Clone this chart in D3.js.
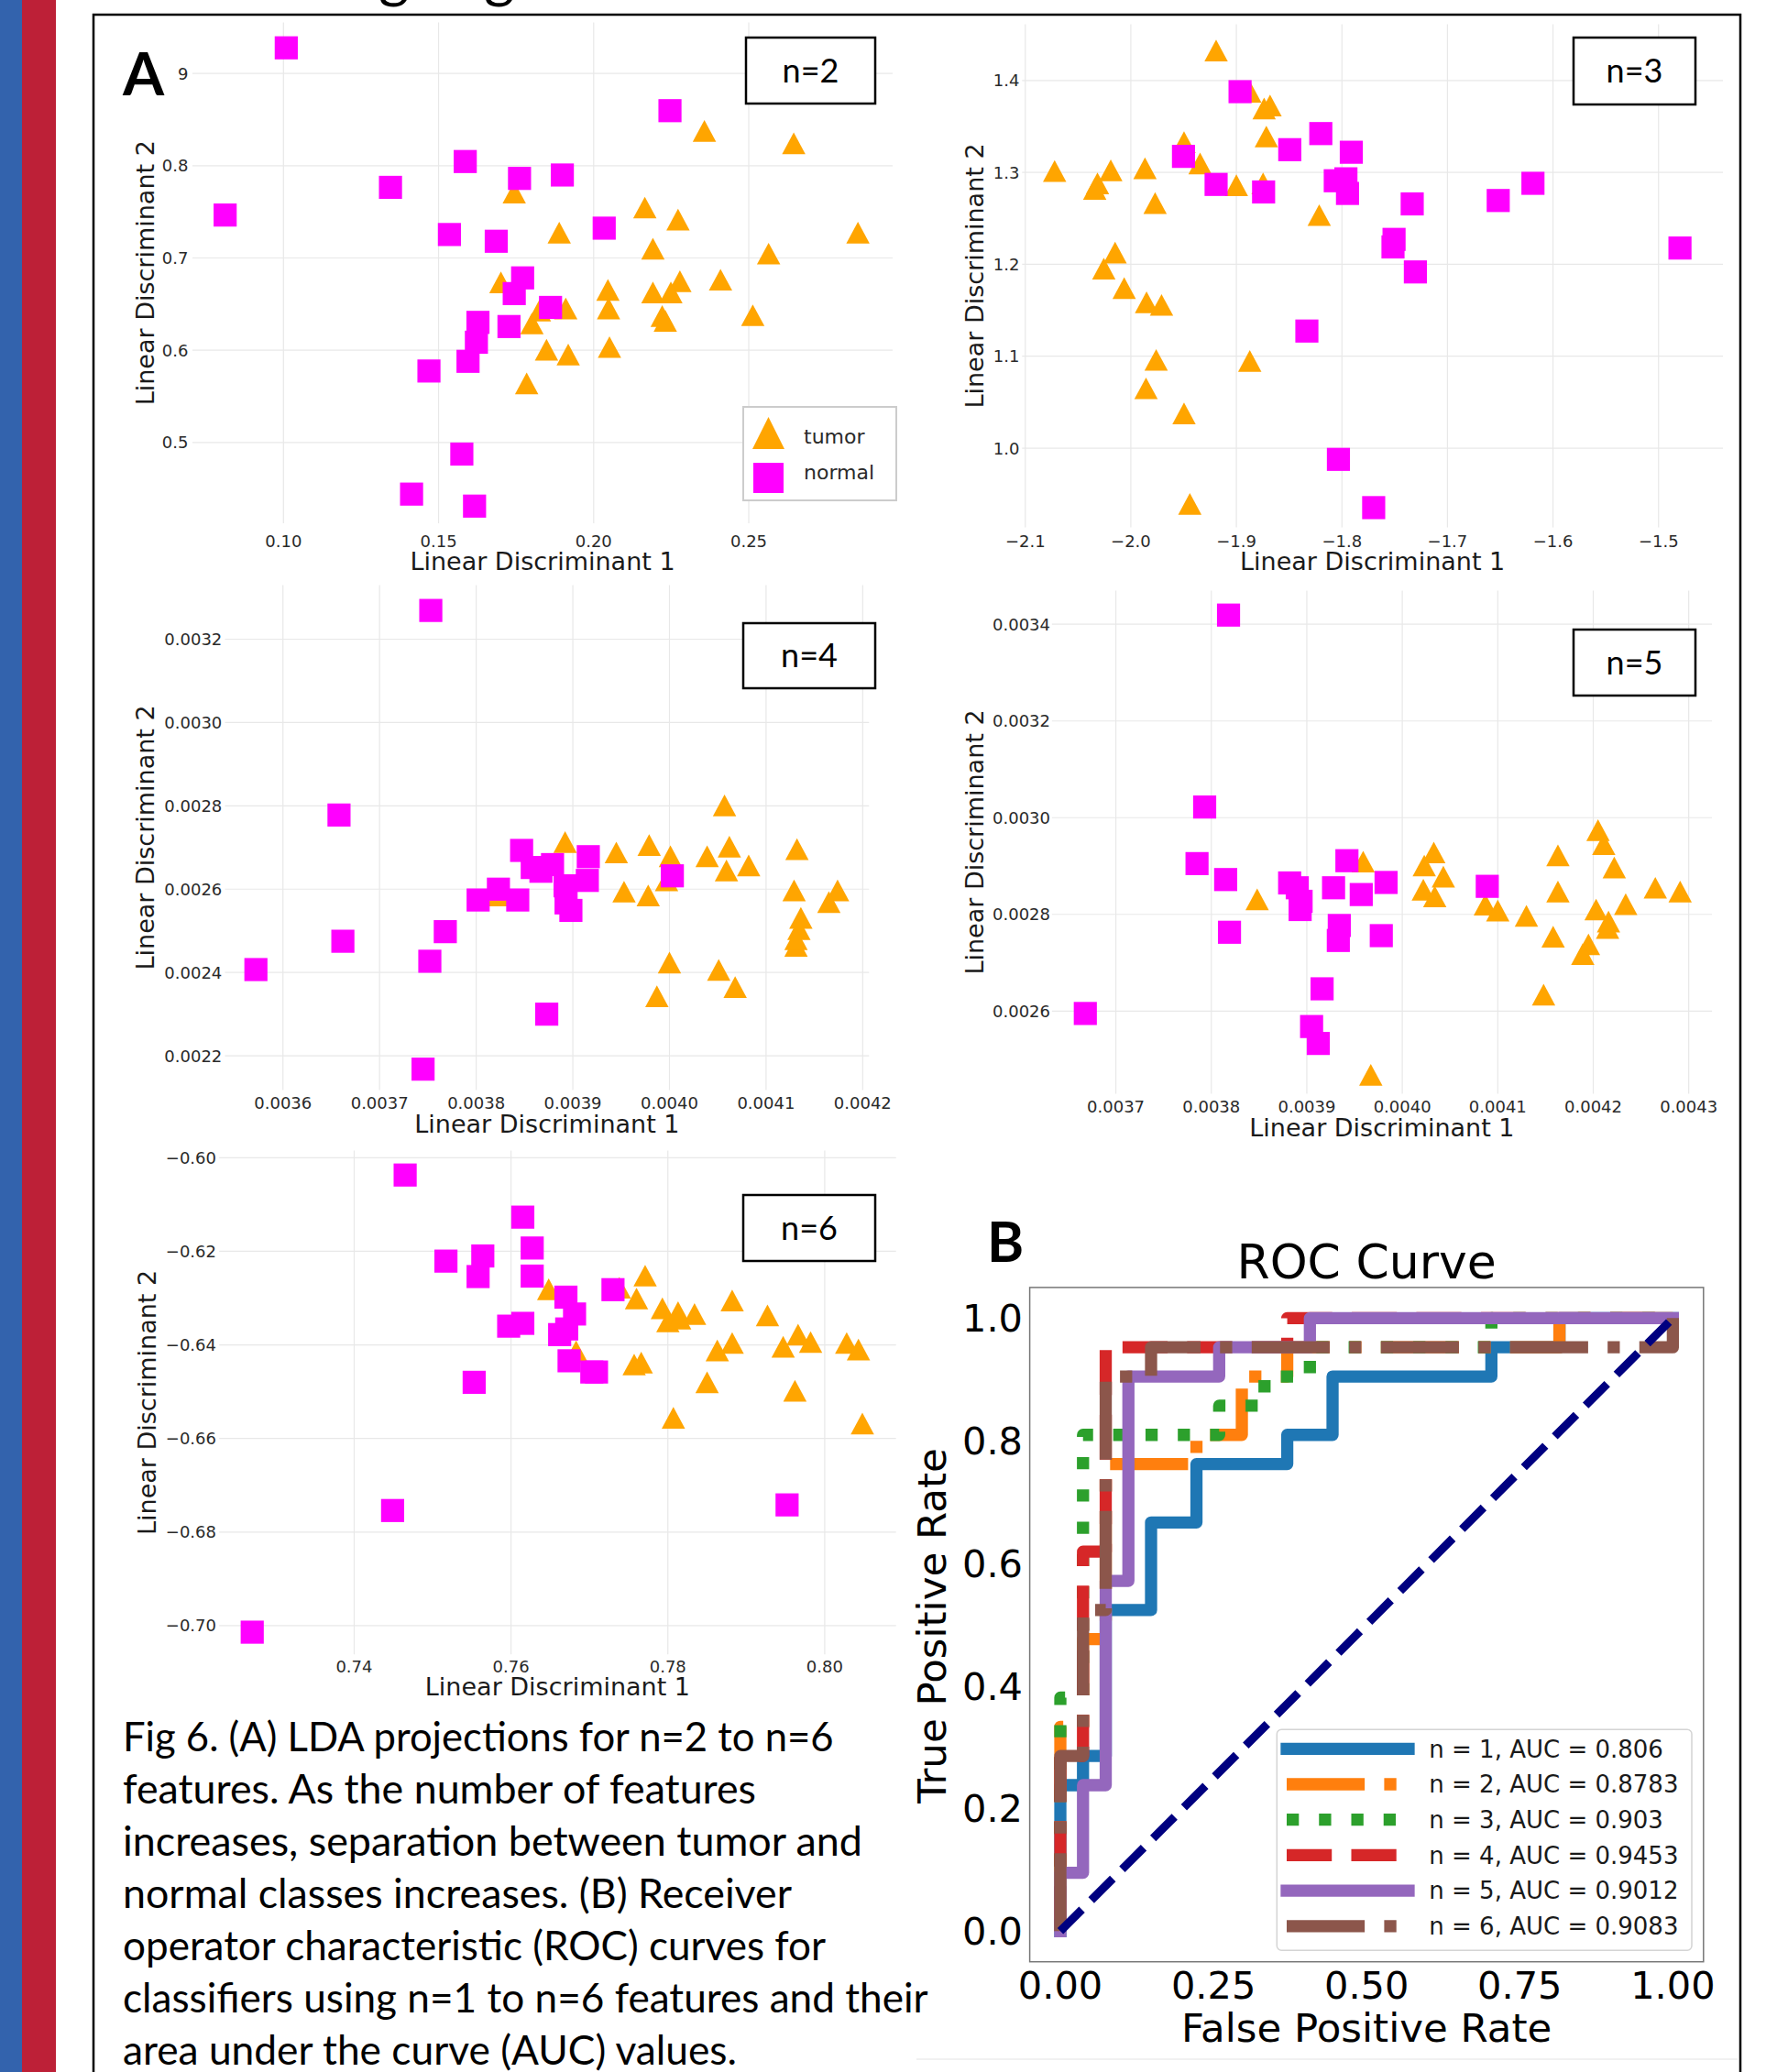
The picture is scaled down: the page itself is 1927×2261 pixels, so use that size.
<!DOCTYPE html>
<html><head><meta charset="utf-8">
<script src="https://cdn.jsdelivr.net/npm/d3@7"></script>
<style>body{margin:0;background:#fff;} svg{display:block;}</style>
</head><body>
<svg id="fig" width="1927" height="2261"></svg>
<script>
// ---------------- DATA ----------------
const n2Tumor = [[0.2357,0.8377],[0.2645,0.8243],[0.1744,0.7708],[0.2165,0.7546],[0.2272,0.7416],[0.1889,0.7274],[0.2852,0.7274],[0.2191,0.7100],[0.2564,0.7047],[0.1701,0.6735],[0.2278,0.6747],[0.2409,0.6764],[0.2046,0.6654],[0.2191,0.6626],[0.2249,0.6626],[0.1910,0.6452],[0.2048,0.6452],[0.1825,0.6431],[0.2513,0.6379],[0.2221,0.6370],[0.2231,0.6318],[0.1801,0.6290],[0.1848,0.6006],[0.1918,0.5953],[0.2051,0.6034],[0.1784,0.5641]];
const n2Normal = [[0.1009,0.9277],[0.0812,0.7465],[0.1345,0.7765],[0.1586,0.8045],[0.1761,0.7862],[0.1899,0.7899],[0.2246,0.8596],[0.1535,0.7254],[0.1686,0.7181],[0.2034,0.7323],[0.1771,0.6784],[0.1744,0.6614],[0.1861,0.6464],[0.1627,0.6302],[0.1727,0.6257],[0.1622,0.6087],[0.1595,0.5880],[0.1469,0.5775],[0.1575,0.4875],[0.1413,0.4441],[0.1616,0.4311]];

const n3Tumor = [[-1.9192,1.4326],[-1.8873,1.3878],[-1.8737,1.3695],[-1.8681,1.3727],[-1.8716,1.3390],[-1.9496,1.3329],[-1.9344,1.3097],[-2.0722,1.3015],[-2.0190,1.3023],[-1.9866,1.3044],[-2.0316,1.2881],[-2.0342,1.2820],[-1.9000,1.2861],[-1.8747,1.2881],[-1.9770,1.2665],[-1.8215,1.2535],[-2.0149,1.2128],[-2.0256,1.1953],[-2.0063,1.1742],[-1.9851,1.1587],[-1.9709,1.1558],[-1.9760,1.0960],[-1.8873,1.0948],[-1.9856,1.0651],[-1.9496,1.0378],[-1.9441,0.9394]];
const n3Normal = [[-1.8965,1.3878],[-1.8200,1.3422],[-1.8494,1.3247],[-1.7911,1.3219],[-1.9501,1.3174],[-1.9192,1.2869],[-1.8742,1.2787],[-1.8063,1.2909],[-1.7962,1.2930],[-1.7947,1.2771],[-1.7334,1.2657],[-1.6519,1.2694],[-1.6190,1.2881],[-1.7506,1.2271],[-1.7516,1.2189],[-1.7304,1.1917],[-1.4797,1.2177],[-1.8332,1.1274],[-1.8033,0.9878],[-1.7699,0.9353]];

const n4Tumor = [[0.004057,0.002801],[0.003892,0.002713],[0.003945,0.002688],[0.003979,0.002706],[0.004001,0.002679],[0.004039,0.002679],[0.004062,0.002702],[0.004082,0.002657],[0.004059,0.002645],[0.004132,0.002696],[0.003953,0.002594],[0.003978,0.002585],[0.003997,0.002621],[0.004129,0.002597],[0.004174,0.002597],[0.004165,0.002569],[0.004136,0.002531],[0.004134,0.002504],[0.004131,0.002464],[0.004000,0.002424],[0.004051,0.002406],[0.004068,0.002365],[0.003987,0.002343],[0.003823,0.002585],[0.004131,0.002480]];
const n4Normal = [[0.003753,0.003269],[0.003658,0.002778],[0.003662,0.002475],[0.003572,0.002407],[0.003768,0.002498],[0.003752,0.002427],[0.003873,0.002300],[0.003745,0.002168],[0.003847,0.002693],[0.003858,0.002652],[0.003867,0.002643],[0.003879,0.002659],[0.003916,0.002678],[0.003823,0.002600],[0.003802,0.002574],[0.003843,0.002574],[0.003892,0.002608],[0.003893,0.002567],[0.003898,0.002549],[0.003915,0.002621],[0.004003,0.002632]];

const n5Tumor = [[0.003848,0.002831],[0.003959,0.002909],[0.004023,0.002901],[0.004033,0.002928],[0.004043,0.002878],[0.004022,0.002851],[0.004034,0.002837],[0.004087,0.002820],[0.004100,0.002808],[0.004130,0.002797],[0.004163,0.002922],[0.004163,0.002847],[0.004158,0.002754],[0.004205,0.002974],[0.004211,0.002945],[0.004222,0.002897],[0.004203,0.002810],[0.004216,0.002785],[0.004215,0.002772],[0.004234,0.002821],[0.004265,0.002855],[0.004291,0.002847],[0.004195,0.002738],[0.004189,0.002718],[0.004148,0.002634],[0.003967,0.002468]];
const n5Normal = [[0.003818,0.003419],[0.003793,0.003022],[0.003785,0.002905],[0.003815,0.002872],[0.003819,0.002763],[0.003668,0.002595],[0.003882,0.002865],[0.003890,0.002855],[0.003894,0.002827],[0.003893,0.002810],[0.003942,0.002911],[0.003928,0.002855],[0.003957,0.002841],[0.003983,0.002866],[0.003934,0.002777],[0.003933,0.002746],[0.003978,0.002756],[0.003916,0.002646],[0.003905,0.002568],[0.003912,0.002533],[0.004089,0.002858]];

const n6Tumor = [[0.7771,-0.6252],[0.7648,-0.6281],[0.7738,-0.6278],[0.7760,-0.6301],[0.7793,-0.6322],[0.7813,-0.6330],[0.7834,-0.6334],[0.7800,-0.6350],[0.7815,-0.6344],[0.7882,-0.6305],[0.7927,-0.6337],[0.7966,-0.6378],[0.7982,-0.6394],[0.7947,-0.6404],[0.7882,-0.6396],[0.7863,-0.6412],[0.8028,-0.6396],[0.8043,-0.6410],[0.7683,-0.6414],[0.7757,-0.6442],[0.7766,-0.6438],[0.7850,-0.6480],[0.7962,-0.6498],[0.7807,-0.6556],[0.8048,-0.6568]];
const n6Normal = [[0.7465,-0.6037],[0.7615,-0.6127],[0.7627,-0.6193],[0.7517,-0.6221],[0.7564,-0.6210],[0.7558,-0.6254],[0.7627,-0.6253],[0.7730,-0.6282],[0.7670,-0.6298],[0.7681,-0.6334],[0.7597,-0.6360],[0.7615,-0.6354],[0.7671,-0.6366],[0.7662,-0.6378],[0.7674,-0.6434],[0.7703,-0.6458],[0.7709,-0.6458],[0.7553,-0.6480],[0.7449,-0.6754],[0.7952,-0.6742],[0.7270,-0.7014]];

const n2XTicks = [0.10,0.15,0.20,0.25], n2XLabels = ["0.10","0.15","0.20","0.25"];
const n2YTicks = [0.5,0.6,0.7,0.8,0.9], n2YLabels = ["0.5","0.6","0.7","0.8","0.9"];
const n3XTicks = [-2.1,-2.0,-1.9,-1.8,-1.7,-1.6,-1.5], n3XLabels = ["\u22122.1","\u22122.0","\u22121.9","\u22121.8","\u22121.7","\u22121.6","\u22121.5"];
const n3YTicks = [1.0,1.1,1.2,1.3,1.4], n3YLabels = ["1.0","1.1","1.2","1.3","1.4"];
const n4XTicks = [0.0036,0.0037,0.0038,0.0039,0.0040,0.0041,0.0042], n4XLabels = ["0.0036","0.0037","0.0038","0.0039","0.0040","0.0041","0.0042"];
const n4YTicks = [0.0022,0.0024,0.0026,0.0028,0.0030,0.0032], n4YLabels = ["0.0022","0.0024","0.0026","0.0028","0.0030","0.0032"];
const n5XTicks = [0.0037,0.0038,0.0039,0.0040,0.0041,0.0042,0.0043], n5XLabels = ["0.0037","0.0038","0.0039","0.0040","0.0041","0.0042","0.0043"];
const n5YTicks = [0.0026,0.0028,0.0030,0.0032,0.0034], n5YLabels = ["0.0026","0.0028","0.0030","0.0032","0.0034"];
const n6XTicks = [0.74,0.76,0.78,0.80], n6XLabels = ["0.74","0.76","0.78","0.80"];
const n6YTicks = [-0.70,-0.68,-0.66,-0.64,-0.62,-0.60], n6YLabels = ["\u22120.70","\u22120.68","\u22120.66","\u22120.64","\u22120.62","\u22120.60"];

const classNames = ["tumor","normal"];

// ROC curves (corner points of step functions)
const fpr1 = [0,0,0.0370,0.0370,0.0741,0.0741,0.1481,0.1481,0.2222,0.2222,0.3704,0.3704,0.4444,0.4444,0.7037,0.7037,0.8148,0.8148,1];
const tpr1 = [0,0.2381,0.2381,0.2857,0.2857,0.5238,0.5238,0.6667,0.6667,0.7619,0.7619,0.8095,0.8095,0.9048,0.9048,0.9524,0.9524,1,1];
const fpr2 = [0,0,0.0370,0.0370,0.0741,0.0741,0.2222,0.2222,0.2963,0.2963,0.3704,0.3704,0.8148,0.8148,1];
const tpr2 = [0,0.3333,0.3333,0.4762,0.4762,0.7619,0.7619,0.8095,0.8095,0.9048,0.9048,0.9524,0.9524,1,1];
const fpr3 = [0,0,0.0370,0.0370,0.2593,0.2593,0.3333,0.3333,0.4074,0.4074,0.7037,0.7037,1];
const tpr3 = [0,0.3810,0.3810,0.8095,0.8095,0.8571,0.8571,0.9048,0.9048,0.9524,0.9524,1,1];
const fpr4 = [0,0,0.0370,0.0370,0.0741,0.0741,0.3704,0.3704,1];
const tpr4 = [0,0.2857,0.2857,0.6190,0.6190,0.9524,0.9524,1,1];
const fpr5 = [0,0,0.0370,0.0370,0.0741,0.0741,0.1111,0.1111,0.2593,0.2593,0.4074,0.4074,1];
const tpr5 = [0,0.0952,0.0952,0.2381,0.2381,0.5714,0.5714,0.9048,0.9048,0.9524,0.9524,1,1];
const fpr6 = [0,0,0.0370,0.0370,0.0741,0.0741,0.1481,0.1481,1,1];
const tpr6 = [0,0.2857,0.2857,0.5238,0.5238,0.9048,0.9048,0.9524,0.9524,1];
const diagFpr = [0,1], diagTpr = [0,1];
const rocLabels = ["n = 1, AUC = 0.806","n = 2, AUC = 0.8783","n = 3, AUC = 0.903","n = 4, AUC = 0.9453","n = 5, AUC = 0.9012","n = 6, AUC = 0.9083"];
const rocXTicks = [0,0.25,0.5,0.75,1], rocXLabels = ["0.00","0.25","0.50","0.75","1.00"];
const rocYTicks = [0,0.2,0.4,0.6,0.8,1.0], rocYLabels = ["0.0","0.2","0.4","0.6","0.8","1.0"];

const captionLines = [
 "Fig 6. (A) LDA projections for n=2 to n=6",
 "features. As the number of features",
 "increases, separation between tumor and",
 "normal classes increases. (B) Receiver",
 "operator characteristic (ROC) curves for",
 "classifiers using n=1 to n=6 features and their",
 "area under the curve (AUC) values."
];

// ---------------- DRAW ----------------
const svg = d3.select("#fig");
const DJ = "'DejaVu Sans', sans-serif";
const LT = "Lato, 'Noto Sans', sans-serif";

// side stripes and frame
svg.append("rect").attr("x",0).attr("y",0).attr("width",24).attr("height",2261).attr("fill","#3363ad");
svg.append("rect").attr("x",24).attr("y",0).attr("width",37).attr("height",2261).attr("fill","#bd2037");
svg.append("path").attr("d","M102,2261V16H1899V2261").attr("fill","none").attr("stroke","#000").attr("stroke-width",2.5);

// clipped title descenders at top (the heading above is cropped off in the source)
[430,545].forEach(x=>svg.append("text").attr("x",x).attr("y",-4).attr("text-anchor","middle")
  .attr("font-family",LT).attr("font-size",64).attr("fill","#000").text("g"));

const panels = [
 {tumor:n2Tumor, normal:n2Normal, xt:n2XTicks, xl:n2XLabels, yt:n2YTicks, yl:n2YLabels,
  xd:[0.07066,0.29638], xr:[210,974], yd:[0.4125,0.9552], yr:[571,24.5],
  xlb:597, xtb:622, ylr:205.4, ytb:168, box:[814,41,955,113], lab:"n=2"},
 {tumor:n3Tumor, normal:n3Normal, xt:n3XTicks, xl:n3XLabels, yt:n3YTicks, yl:n3YLabels,
  xd:[-2.103,-1.439], xr:[1115.3,1880], yd:[0.9138,1.4611], yr:[575.5,26.5],
  xlb:597, xtb:622, ylr:1112.4, ytb:1073, box:[1717,41,1850,114], lab:"n=3"},
 {tumor:n4Tumor, normal:n4Normal, xt:n4XTicks, xl:n4XLabels, yt:n4YTicks, yl:n4YLabels,
  xd:[0.003540,0.0042066], xr:[245.5,948.3], yd:[0.002118,0.003330], yr:[1189.4,638.4],
  xlb:1210, xtb:1236.3, ylr:242.3, ytb:168, box:[811,680,955,751], lab:"n=4"},
 {tumor:n5Tumor, normal:n5Normal, xt:n5XTicks, xl:n5XLabels, yt:n5YTicks, yl:n5YLabels,
  xd:[0.003633,0.0043244], xr:[1147.8,1868.1], yd:[0.002429,0.0034696], yr:[1193.5,644.5],
  xlb:1214, xtb:1240.4, ylr:1146, ytb:1073, box:[1717,687,1850,759], lab:"n=5"},
 {tumor:n6Tumor, normal:n6Normal, xt:n6XTicks, xl:n6XLabels, yt:n6YTicks, yl:n6YLabels,
  xd:[0.72279,0.80909], xr:[239.2,977.7], yd:[-0.70615,-0.59847], yr:[1805.3,1255.5],
  xlb:1824.5, xtb:1850.2, ylr:236, ytb:170, box:[811,1304,955,1376], lab:"n=6"}
];

const triPath = "M-12.75,11.85L12.75,11.85L0,-11.85Z";

panels.forEach(p=>{
  const x = d3.scaleLinear(p.xd, p.xr), y = d3.scaleLinear(p.yd, p.yr);
  const g = svg.append("g");
  g.selectAll(".vg").data(p.xt).join("line").attr("x1",d=>x(d)).attr("x2",d=>x(d))
    .attr("y1",p.yr[1]).attr("y2",p.yr[0]).attr("stroke","#e8e8e8").attr("stroke-width",1.2);
  g.selectAll(".hg").data(p.yt).join("line").attr("y1",d=>y(d)).attr("y2",d=>y(d))
    .attr("x1",p.xr[0]).attr("x2",p.xr[1]).attr("stroke","#e8e8e8").attr("stroke-width",1.2);
  g.selectAll(".xl").data(p.xt).join("text").attr("x",d=>x(d)).attr("y",p.xlb)
    .attr("text-anchor","middle").attr("font-family",DJ).attr("font-size",18).attr("fill","#2a2a2a")
    .text((d,i)=>p.xl[i]);
  g.selectAll(".yl").data(p.yt).join("text").attr("x",p.ylr).attr("y",d=>y(d)).attr("dy","0.36em")
    .attr("text-anchor","end").attr("font-family",DJ).attr("font-size",18).attr("fill","#2a2a2a")
    .text((d,i)=>p.yl[i]);
  g.append("text").attr("x",(p.xr[0]+p.xr[1])/2).attr("y",p.xtb).attr("text-anchor","middle")
    .attr("font-family",DJ).attr("font-size",27).attr("fill","#1a1a1a").text("Linear Discriminant 1");
  const cy = (p.yr[0]+p.yr[1])/2;
  g.append("text").attr("transform",`translate(${p.ytb},${cy}) rotate(-90)`).attr("text-anchor","middle")
    .attr("font-family",DJ).attr("font-size",27).attr("fill","#1a1a1a").text("Linear Discriminant 2");
  g.selectAll(".tri").data(p.tumor).join("path").attr("d",triPath)
    .attr("transform",d=>`translate(${x(d[0])},${y(d[1])})`).attr("fill","#FFA500");
  g.selectAll(".sq").data(p.normal).join("rect").attr("x",d=>x(d[0])-12.6).attr("y",d=>y(d[1])-12.6)
    .attr("width",25.2).attr("height",25.2).attr("fill","#FF00FF");
  const b = p.box;
  g.append("rect").attr("x",b[0]).attr("y",b[1]).attr("width",b[2]-b[0]).attr("height",b[3]-b[1])
    .attr("fill","#fff").attr("stroke","#000").attr("stroke-width",2.5);
  g.append("text").attr("x",(b[0]+b[2])/2).attr("y",(b[1]+b[3])/2).attr("dy","0.35em").attr("text-anchor","middle")
    .attr("font-family",LT).attr("font-size",36).attr("fill","#000").text(p.lab);
});

// legend of n=2 panel
const lg = svg.append("g");
lg.append("rect").attr("x",811).attr("y",444).attr("width",167).attr("height",102)
  .attr("fill","#fff").attr("stroke","#cccccc").attr("stroke-width",2);
lg.append("path").attr("d","M-17.5,17.5L17.5,17.5L0,-17.5Z").attr("transform","translate(838.5,472.5)").attr("fill","#FFA500");
lg.append("rect").attr("x",822).attr("y",505).attr("width",33).attr("height",33).attr("fill","#FF00FF");
lg.selectAll("text").data(classNames).join("text").attr("x",877).attr("y",(d,i)=>[484,522.5][i])
  .attr("font-family",DJ).attr("font-size",22).attr("fill","#2a2a2a").text(d=>d);

// panel letter A (its white box hides part of a tick label, as in the original)
svg.append("rect").attr("x",118).attr("y",40).attr("width",75).attr("height",75).attr("fill","#fff");
svg.append("text").attr("x",134).attr("y",104).attr("font-family",LT).attr("font-weight",700)
  .attr("font-size",65).attr("fill","#000").text("A");

// ---------------- ROC ----------------
const xR = d3.scaleLinear([-0.05,1.05],[1123.6,1858.8]);
const yR = d3.scaleLinear([-0.05,1.05],[2140.7,1404.9]);
const rg = svg.append("g");
rg.append("defs").append("clipPath").attr("id","rocclip").append("rect")
  .attr("x",1123.6).attr("y",1404.9).attr("width",735.2).attr("height",735.8);
const lineGen = d3.line().x(d=>xR(d[0])).y(d=>yR(d[1]));
const rocData = [[fpr1,tpr1],[fpr2,tpr2],[fpr3,tpr3],[fpr4,tpr4],[fpr5,tpr5],[fpr6,tpr6]];
const rocColors = ["#1f77b4","#ff7f0e","#2ca02c","#d62728","#9467bd","#8c564b"];
const LW = 13.3;
const rocDash = [null,[6.4,1.6,1,1.6],[1,1.65],[3.7,1.6],null,[6.4,1.6,1,1.6]];
const lines = rg.append("g").attr("clip-path","url(#rocclip)");
rocData.forEach((s,i)=>{
  const pth = lines.append("path").attr("d",lineGen(d3.zip(s[0],s[1]))).attr("fill","none")
    .attr("stroke",rocColors[i]).attr("stroke-width",LW).attr("stroke-linejoin","round");
  if(rocDash[i]) pth.attr("stroke-dasharray",rocDash[i].map(v=>v*LW).join(",")).attr("stroke-linecap","butt");
  else pth.attr("stroke-linecap","square");
});
lines.append("path").attr("d",lineGen(d3.zip(diagFpr,diagTpr))).attr("fill","none")
  .attr("stroke","#000080").attr("stroke-width",9).attr("stroke-dasharray",[3.7*9,1.6*9].join(","))
  .attr("stroke-linecap","butt");
rg.append("rect").attr("x",1123.6).attr("y",1404.9).attr("width",735.2).attr("height",735.8)
  .attr("fill","none").attr("stroke","#777").attr("stroke-width",1.5);
rg.selectAll(".rxl").data(rocXTicks).join("text").attr("x",d=>xR(d)).attr("y",2181)
  .attr("text-anchor","middle").attr("font-family",DJ).attr("font-size",41.5).attr("fill","#000")
  .text((d,i)=>rocXLabels[i]);
rg.selectAll(".ryl").data(rocYTicks).join("text").attr("x",1116).attr("y",d=>yR(d)).attr("dy","0.36em")
  .attr("text-anchor","end").attr("font-family",DJ).attr("font-size",41.5).attr("fill","#000")
  .text((d,i)=>rocYLabels[i]);
rg.append("text").attr("x",1491.2).attr("y",2228).attr("text-anchor","middle").attr("font-family",DJ)
  .attr("font-size",43.5).attr("fill","#000").text("False Positive Rate");
rg.append("text").attr("transform","translate(1032,1774) rotate(-90)").attr("text-anchor","middle")
  .attr("font-family",DJ).attr("font-size",43.5).attr("fill","#000").text("True Positive Rate");
rg.append("text").attr("x",1491.2).attr("y",1395).attr("text-anchor","middle").attr("font-family",DJ)
  .attr("font-size",52).attr("fill","#000").text("ROC Curve");
// ROC legend
rg.append("rect").attr("x",1393.3).attr("y",1887.3).attr("width",452.7).attr("height",241).attr("rx",5)
  .attr("fill","#fff").attr("fill-opacity",0.8).attr("stroke","#d4d4d4").attr("stroke-width",1.5);
rocLabels.forEach((t,i)=>{
  const yy = 1908.3 + i*38.7;
  const h = rg.append("line").attr("x1",1404).attr("x2",1537).attr("y1",yy).attr("y2",yy)
    .attr("stroke",rocColors[i]).attr("stroke-width",LW);
  if(rocDash[i]) h.attr("stroke-dasharray",rocDash[i].map(v=>v*LW).join(",")).attr("stroke-linecap","butt");
  else h.attr("stroke-linecap","square");
  rg.append("text").attr("x",1559.3).attr("y",yy).attr("dy","0.36em").attr("font-family",DJ)
    .attr("font-size",26).attr("fill","#1a1a1a").text(t);
});
svg.append("line").attr("x1",1000).attr("x2",1896).attr("y1",2247).attr("y2",2247).attr("stroke","#ececec").attr("stroke-width",1.5);

svg.append("text").attr("x",1077).attr("y",1377).attr("font-family",LT).attr("font-weight",700)
  .attr("font-size",61).attr("fill","#000").text("B");

// ---------------- CAPTION ----------------
const capTargets = [775.6,691,807,730,767,878.7,670];
const cap = svg.append("g");
const probe = cap.append("text").attr("font-family",LT).attr("font-size",100).text(captionLines[5]);
const natural = probe.node().getComputedTextLength();
probe.remove();
const capSize = 100*capTargets[5]/natural;
captionLines.forEach((t,i)=>{
  cap.append("text").attr("x",134).attr("y",1910.7+i*57.1).attr("font-family",LT)
    .attr("font-size",capSize).attr("fill","#000").attr("textLength",capTargets[i])
    .attr("lengthAdjust","spacingAndGlyphs").text(t);
});
</script>
</body></html>
